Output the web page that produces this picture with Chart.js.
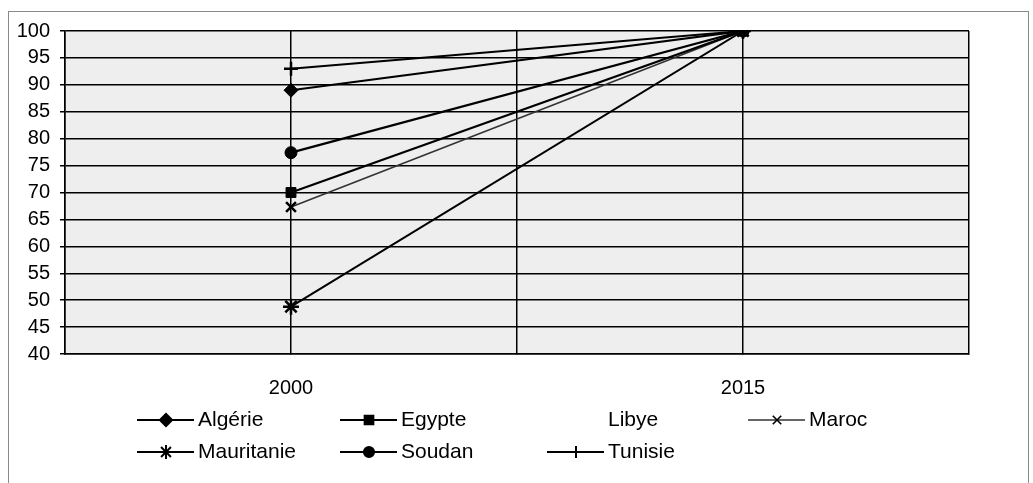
<!DOCTYPE html>
<html>
<head>
<meta charset="utf-8">
<script src="https://cdn.jsdelivr.net/npm/chart.js@4.4.1/dist/chart.umd.min.js"></script>
<style>
  body { margin: 0; background: #fff; }
  #wrap { position: relative; width: 1033px; height: 483px; overflow: hidden; }
  #frame { position: absolute; left: 8px; top: 11px; width: 1019px; height: 500px; border: 1px solid #8a8a8a; }
  #chart { position: absolute; left: 0; top: 0; }
</style>
</head>
<body>
<div id="wrap">
  <div id="frame"></div>
  <canvas id="chart" width="1033" height="483"></canvas>
</div>
<script>
// x categories (years) and one array per country, values at [2000, 2015]
const years = [2000, 2015];
const countries = ['Algérie', 'Egypte', 'Libye', 'Maroc', 'Mauritanie', 'Soudan', 'Tunisie'];
const algerie = [89, 100];
const egypte = [70, 100];
const libye = [null, null];
const maroc = [67.3, 100];
const mauritanie = [48.8, 100];
const soudan = [77.4, 100];
const tunisie = [93, 100];
const yMin = 40, yMax = 100, yStep = 5;

const values = [algerie, egypte, libye, maroc, mauritanie, soudan, tunisie];
const styles = [
  { pointStyle: 'rectRot', radius: 7, width: 2.2 },
  { pointStyle: 'rect', radius: 7, width: 2.2 },
  { pointStyle: false, radius: 0, width: 0 },
  { pointStyle: 'crossRot', radius: 7, width: 1.6 },
  { pointStyle: 'star', radius: 8, width: 2 },
  { pointStyle: 'circle', radius: 6, width: 2.2 },
  { pointStyle: 'cross', radius: 7, width: 2 }
];

Chart.defaults.font.family = "'Liberation Sans', Arial, sans-serif";
Chart.defaults.color = '#000';

const datasets = countries.map((name, i) => ({
  label: name,
  data: years.map((y, j) => ({ x: y, y: values[i][j] })),
  borderColor: i === 3 ? '#333' : '#000',
  backgroundColor: '#000',
  pointBorderColor: '#000',
  borderWidth: styles[i].width,
  pointStyle: styles[i].pointStyle,
  pointRadius: styles[i].radius,
  pointBorderWidth: ['star', 'cross', 'crossRot'].includes(styles[i].pointStyle) ? 2.5 : 1,
  showLine: styles[i].width > 0
}));

// plot area tint + legend laid out in a grid like the original
const areaFill = {
  id: 'areaFill',
  beforeDraw(chart) {
    const { ctx, chartArea: a } = chart;
    ctx.save();
    ctx.fillStyle = '#eeeeee';
    ctx.fillRect(a.left, a.top, a.right - a.left, a.bottom - a.top);
    ctx.restore();
  }
};

const gridLegend = {
  id: 'gridLegend',
  afterDraw(chart) {
    const { ctx, chartArea: a } = chart;
    const colX = [72, 275, 482, 683];
    const rowY = [a.bottom + 66, a.bottom + 98];
    ctx.save();
    ctx.font = "21px 'Liberation Sans', Arial, sans-serif";
    ctx.textBaseline = 'middle';
    chart.data.datasets.forEach((ds, i) => {
      const x = a.left + colX[i % 4];
      const y = rowY[Math.floor(i / 4)];
      if (ds.showLine) {
        ctx.strokeStyle = ds.borderColor;
        ctx.lineWidth = ds.borderWidth;
        ctx.beginPath();
        ctx.moveTo(x, y);
        ctx.lineTo(x + 57, y);
        ctx.stroke();
        ctx.fillStyle = '#000';
        ctx.strokeStyle = '#000';
        Chart.helpers.drawPoint(ctx, {
          pointStyle: ds.pointStyle, radius: ds.pointRadius - 1,
          borderWidth: ds.pointBorderWidth - 0.5, rotation: 0
        }, x + 29, y);
      }
      ctx.fillStyle = '#000';
      ctx.fillText(ds.label, x + 61, y);
    });
    ctx.restore();
  }
};

new Chart(document.getElementById('chart'), {
  type: 'line',
  data: { datasets: datasets },
  options: {
    responsive: false,
    animation: false,
    layout: { padding: { left: 0, top: 31, right: 64, bottom: 79 } },
    plugins: {
      legend: { display: false },
      tooltip: { enabled: false }
    },
    scales: {
      x: {
        type: 'linear',
        min: 1992.5,
        max: 2022.5,
        afterFit: (s) => { s.height = 50; },
        ticks: {
          stepSize: 7.5,
          autoSkip: false,
          maxRotation: 0,
          padding: 22,
          font: { size: 20 },
          callback: (v) => years.includes(v) ? String(v) : ''
        },
        grid: { color: '#000', lineWidth: 1.5, tickLength: 0 },
        border: { color: '#000', width: 1.5 }
      },
      y: {
        min: yMin,
        max: yMax,
        afterFit: (s) => { s.width = 65; },
        ticks: { stepSize: yStep, autoSkip: false, padding: 10, font: { size: 20 } },
        grid: { color: '#000', lineWidth: 1.5, tickLength: 5 },
        border: { color: '#000', width: 1.5 }
      }
    }
  },
  plugins: [areaFill, gridLegend]
});
</script>
</body>
</html>
